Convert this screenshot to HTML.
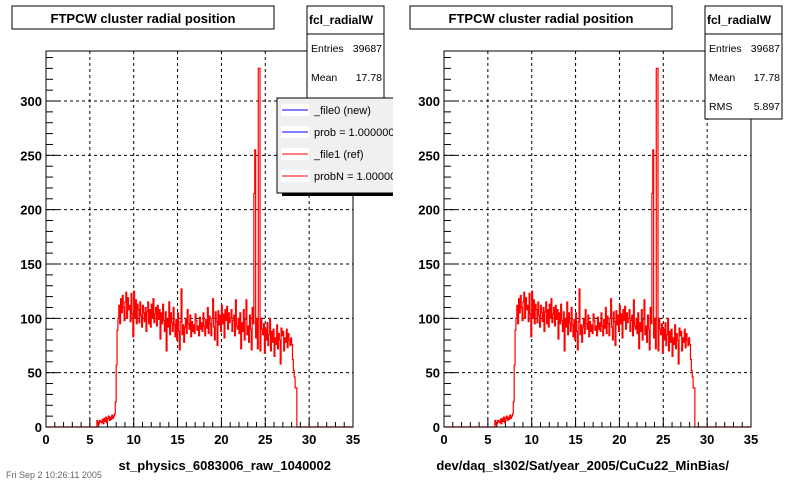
<!DOCTYPE html>
<html><head><meta charset="utf-8"><style>
body{margin:0;background:#fff;width:800px;height:480px;overflow:hidden}
svg{font-family:"Liberation Sans",Arial,sans-serif}
.t{font-weight:bold;font-size:13px}
</style></head><body>
<svg id="c" width="800" height="480" viewBox="0 0 800 480"></svg>
<script>
const binStart = 5.8;
const binWidth = 0.1;
const counts = [
6,2,3,6,5,4,7,3,8,5,
9,4,8,10,6,9,7,11,8,10,
12,23,57,89,100,112,95,118,105,121,
110,98,115,124,100,119,108,112,97,123,
104,83,125,100,117,95,113,108,96,115,
103,92,112,105,97,110,88,106,115,95,
108,92,113,100,118,96,104,110,93,112,
99,108,81,105,95,113,98,88,106,70,
100,92,115,85,105,96,88,110,94,83,
99,80,105,88,71,97,127,85,94,78,
92,100,86,108,95,90,103,83,97,88,
94,86,104,98,89,93,84,101,90,96,
88,105,93,84,99,91,110,86,102,95,
84,100,118,92,80,106,97,75,107,94,
103,88,112,95,104,82,108,98,111,90,
105,96,100,108,88,98,103,84,117,93,
90,100,86,105,72,96,88,108,80,99,
117,85,93,78,103,90,71,110,95,215,
255,82,100,72,330,330,70,100,90,85,
95,68,90,80,96,75,85,100,70,88,
78,90,65,82,76,94,72,86,80,58,
91,84,88,70,82,78,90,73,86,80,
75,82,76,62,52,46,36,36,0,0];
const xTicks = [0,5,10,15,20,25,30,35];
const yTicks = [0,50,100,150,200,250,300];
const xLabels = ["st_physics_6083006_raw_1040002","dev/daq_sl302/Sat/year_2005/CuCu22_MinBias/"];
const statLabels = ["Entries","Mean","RMS"];
const statValues = ["39687","17.78","5.897"];
const legendLabels = ["_file0 (new)","prob = 1.000000","_file1 (ref)","probN = 1.000000"];

const NS="http://www.w3.org/2000/svg";
const svg=document.getElementById('c');
function mk(tag,attrs,parent){const e=document.createElementNS(NS,tag);for(const k in attrs)e.setAttribute(k,attrs[k]);(parent||svg).appendChild(e);return e;}

function drawPad(ox,pi){
  const L=ox+46,R=ox+353,T=51,B=427;
  const xs=v=>L+(v/35)*(R-L);
  const ys=v=>B-v*(326/300);
  const g=mk('g',{});
  
  
  const tb=mk('rect',{x:ox+12,y:6,width:262,height:23,fill:'#fff',stroke:'#000'},g);
  
  const tt=mk('text',{x:ox+143,y:23,'text-anchor':'middle',class:'t','font-size':'14'},g);
  tt.textContent='FTPCW cluster radial position';
  
  for(const v of xTicks){if(v===0||v===35)continue;mk('line',{x1:xs(v),x2:xs(v),y1:T,y2:B,stroke:'#000','stroke-dasharray':'3,3'},g);}
  for(const v of yTicks){if(v===0)continue;mk('line',{x1:L,x2:R,y1:ys(v),y2:ys(v),stroke:'#000','stroke-dasharray':'3,3'},g);}
  for(let v=0;v<=35;v++){const len=v%5===0?9:5;mk('line',{x1:xs(v),x2:xs(v),y1:B,y2:B-len,stroke:'#000'},g);}
  for(let v=0;v*(326/300)<=B-T;v+=10){const len=v%50===0?12:7;mk('line',{x1:L,x2:L+len,y1:ys(v),y2:ys(v),stroke:'#000'},g);}
  for(const v of xTicks){const t=mk('text',{x:xs(v),y:444,'text-anchor':'middle',class:'t'},g);t.textContent=v;}
  for(const v of yTicks){const t=mk('text',{x:L-4,y:ys(v)+5,'text-anchor':'end',class:'t'},g);t.textContent=v;}
  let d='M'+L+','+B+' H'+xs(binStart);
  counts.forEach((c,i)=>{const x1=xs(binStart+(i+1)*binWidth);d+=' V'+ys(c)+' H'+x1;});
  d+=' V'+B+' H'+R;
  const h=mk('path',{d:d,fill:'none',stroke:'#f00','stroke-width':1.2},g);
  
  mk('rect',{x:L,y:T,width:R-L,height:B-T,fill:'none',stroke:'#000'},g);
  const xl=mk('text',{x:ox+331,y:470,'text-anchor':'end',class:'t','font-size':'12.5'},g);
  xl.textContent=xLabels[pi];
  const sg=mk('g',{},g);
  mk('rect',{x:ox+307,y:6,width:77,height:113,fill:'#fff',stroke:'#000'},sg);
  mk('line',{x1:ox+307,x2:ox+384,y1:34,y2:34,stroke:'#000'},sg);
  const hd=mk('text',{x:ox+309,y:24,'font-size':'12','font-weight':'bold'},sg);hd.textContent='fcl_radialW';
  statLabels.forEach((s,i)=>{const y=52+i*29;
    const a=mk('text',{x:ox+311,y:y,'font-size':'10.5'},sg);a.textContent=s;
    const b=mk('text',{x:ox+382,y:y,'font-size':'10.5','text-anchor':'end'},sg);b.textContent=statValues[i];});
}
drawPad(0,0);drawPad(398,1);
const lg=mk('g',{});
mk('rect',{x:282,y:98,width:120,height:98,fill:'#000'},lg);
mk('rect',{x:277,y:98,width:120,height:95,fill:'#f0f0f0',stroke:'#000'},lg);
const cols=['#00f','#00f','#f00','#f00'];
legendLabels.forEach((s,i)=>{const y=110+i*22;
  const e=mk('g',{},lg);
  mk('rect',{x:281,y:y-6,width:28,height:12,fill:'#fff'},e);
  mk('line',{x1:282,x2:308,y1:y,y2:y,stroke:cols[i]},e);
  const t=mk('text',{x:314,y:y+4,'font-size':'11'},e);t.textContent=s;});
mk('rect',{x:393,y:90,width:12,height:110,fill:'#fff'});
const ft=mk('text',{x:6,y:478,'font-size':'9',fill:'#666'});ft.textContent='Fri Sep 2 10:26:11 2005';

</script>
</body></html>
